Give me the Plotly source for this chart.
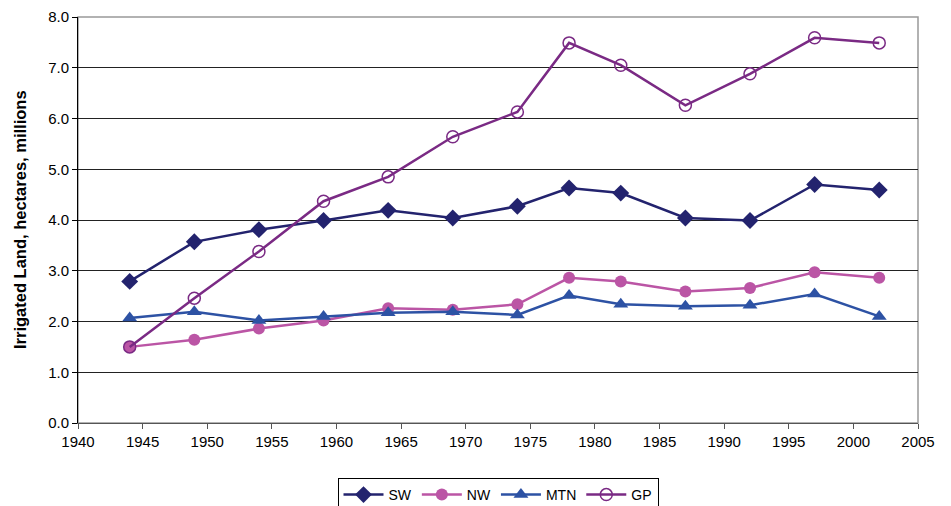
import plotly.graph_objects as go

years = [1944, 1949, 1954, 1959, 1964, 1969, 1974, 1978, 1982, 1987, 1992, 1997, 2002]
sw = [2.79, 3.57, 3.81, 3.99, 4.19, 4.04, 4.27, 4.63, 4.53, 4.04, 3.99, 4.70, 4.59]
nw = [1.50, 1.64, 1.86, 2.02, 2.26, 2.23, 2.34, 2.86, 2.79, 2.59, 2.66, 2.97, 2.86]
mtn = [2.07, 2.19, 2.02, 2.10, 2.17, 2.19, 2.13, 2.51, 2.34, 2.30, 2.32, 2.54, 2.10]
gp = [1.50, 2.46, 3.38, 4.37, 4.85, 5.64, 6.13, 7.49, 7.05, 6.26, 6.88, 7.59, 7.49]

FONT = "Liberation Sans, Arial, sans-serif"
W, H = 943, 498

fig = go.Figure()
fig.add_trace(go.Scatter(x=years, y=sw, name="SW", mode="lines+markers",
                         line=dict(color="#23236E", width=2.5),
                         marker=dict(symbol="diamond", size=13, color="#23236E")))
fig.add_trace(go.Scatter(x=years, y=nw, name="NW", mode="lines+markers",
                         line=dict(color="#BB55A5", width=2.5),
                         marker=dict(symbol="circle", size=12, color="#BB55A5")))
fig.add_trace(go.Scatter(x=years, y=mtn, name="MTN", mode="lines+markers",
                         line=dict(color="#2D52A4", width=2.5),
                         marker=dict(symbol="triangle-up", size=13, color="#2D52A4")))
fig.add_trace(go.Scatter(x=years, y=gp, name="GP", mode="lines+markers",
                         line=dict(color="#7A2A84", width=2.5),
                         marker=dict(symbol="circle-open", size=12, color="#7A2A84",
                                     line=dict(width=1.5))))

fig.update_layout(
    width=W, height=H,
    margin=dict(l=70, r=33, t=9, b=83, autoexpand=False),
    paper_bgcolor="white", plot_bgcolor="white",
    font=dict(family=FONT, size=15, color="black"),
    showlegend=True,
    legend=dict(orientation="h", x=0.5, xanchor="center", yref="container",
                y=1 - 470 / H, yanchor="top",
                bordercolor="black", borderwidth=1, bgcolor="white",
                font=dict(size=14, family=FONT), itemwidth=40, tracegroupgap=0),
    xaxis=dict(range=[1940, 2005], dtick=5, tick0=1940, showgrid=False,
               showline=True, linecolor="#555", linewidth=1,
               ticks="outside", ticklen=5, tickcolor="#555",
               tickfont=dict(size=15), zeroline=False, automargin=False,
               ticklabeloverflow="allow"),
    yaxis=dict(range=[0, 8], dtick=1, tickformat=".1f", showgrid=True,
               gridcolor="#222", gridwidth=1,
               showline=True, linecolor="black", linewidth=1,
               ticks="outside", ticklen=5, tickcolor="black",
               tickfont=dict(size=15), zeroline=False, automargin=False,
               ticklabeloverflow="allow"),
    annotations=[dict(text="<b>Irrigated Land, hectares, millions</b>",
                      xref="paper", yref="paper", x=(20 - 78) / 840, y=0.5,
                      xanchor="center", yanchor="middle", textangle=-90,
                      showarrow=False, font=dict(size=16.5, family=FONT))],
)
fig.add_shape(type="rect", xref="paper", yref="paper", x0=0, x1=1, y0=0, y1=1,
              line=dict(color="#999", width=1.5), layer="below")

fig.write_html("out.html")
